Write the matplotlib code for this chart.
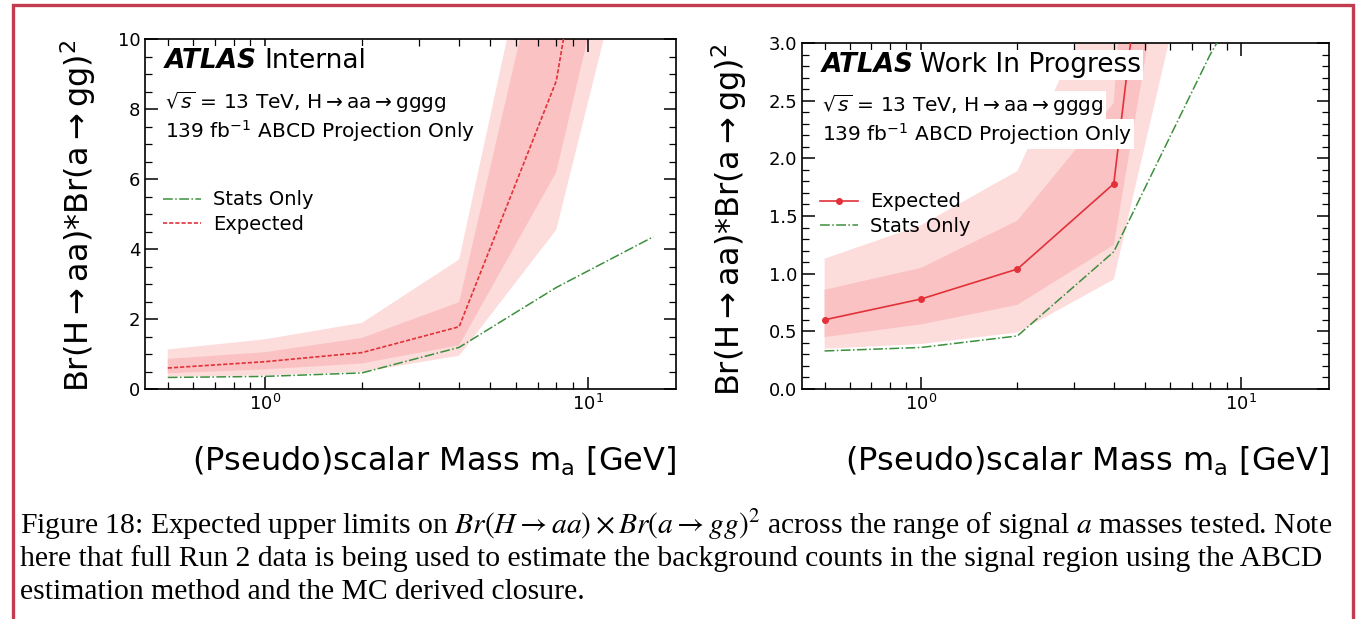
import numpy as np
import matplotlib.pyplot as plt
import matplotlib.patches as patches
from matplotlib.ticker import MultipleLocator

# values
mass = [0.5, 1, 2, 4, 8, 16]
expected = [0.60, 0.78, 1.04, 1.78, 8.8, 25.0]
stats_only = [0.33, 0.36, 0.46, 1.19, 2.9, 4.35]
band1_lo = [0.45, 0.56, 0.73, 1.25, 6.2, 18.0]
band1_hi = [0.86, 1.05, 1.46, 2.48, 14.5, 40.0]
band2_lo = [0.35, 0.39, 0.49, 0.95, 4.55, 15.7]
band2_hi = [1.13, 1.42, 1.89, 3.70, 16.5, 60.0]

tag_left = 'Internal'
tag_right = 'Work In Progress'
line2 = r'$\sqrt{s}$ = 13 TeV, H$\rightarrow$aa$\rightarrow$gggg'
line3 = r'139 fb$^{-1}$ ABCD Projection Only'
ylab = r'Br(H$\rightarrow$aa)*Br(a$\rightarrow$gg)$^2$'
xlab = r'(Pseudo)scalar Mass m$_{\rm a}$ [GeV]'
caption = [r'Figure 18: Expected upper limits on $Br(H \rightarrow aa) \times Br(a \rightarrow gg)^2$ across the range of signal $a$ masses tested. Note',
           'here that full Run 2 data is being used to estimate the background counts in the signal region using the ABCD',
           'estimation method and the MC derived closure.']

c_outer = '#fddcdc'
c_inner = '#fac2c2'
c_red = '#e3313a'
c_green = '#3c8f3c'

fig = plt.figure(figsize=(13.66, 6.19), dpi=100)
axL = fig.add_axes([145/1366, 1-389/619, 531/1366, 350/619])
axR = fig.add_axes([802/1366, 1-389/619, 527/1366, 346/619])


def style(ax, ymax, major, minor):
    ax.set_xscale('log')
    ax.set_ylim(0, ymax)
    ax.yaxis.set_major_locator(MultipleLocator(major))
    ax.yaxis.set_minor_locator(MultipleLocator(minor))
    ax.tick_params(which='both', direction='in', top=True, right=True, labelsize=13)
    ax.tick_params(which='major', length=9, width=1.1)
    ax.tick_params(which='minor', length=5, width=0.9)
    for s in ax.spines.values():
        s.set_linewidth(1.2)
    ax.set_ylabel(ylab, fontsize=23, loc='top', labelpad=14)
    ax.set_xlabel(xlab, fontsize=23, loc='right', labelpad=22)


def bands(ax):
    ax.fill_between(mass, band2_lo, band2_hi, color=c_outer, lw=0, zorder=1)
    ax.fill_between(mass, band1_lo, band1_hi, color=c_inner, lw=0, zorder=1)


def labels(ax, tag):
    box = dict(facecolor='white', edgecolor='none', pad=1.5)
    ax.text(0.038, 0.975, 'ATLAS', transform=ax.transAxes, fontsize=19, fontweight='bold',
            style='italic', va='top', bbox=box, zorder=5)
    ax.text(0.224, 0.975, tag, transform=ax.transAxes, fontsize=19, va='top', bbox=box, zorder=5)
    ax.text(0.038, 0.855, line2, transform=ax.transAxes, fontsize=14.5, va='top', bbox=box, zorder=5)
    ax.text(0.038, 0.775, line3, transform=ax.transAxes, fontsize=14.5, va='top', bbox=box, zorder=5)


# left panel
bands(axL)
axL.plot(mass, stats_only, color=c_green, ls='-.', lw=1.1, label='Stats Only', zorder=3)
axL.plot(mass, expected, color=c_red, ls=(0, (2.5, 1.2)), lw=1.2, label='Expected', zorder=3)
style(axL, 10, 2, 0.5)
labels(axL, tag_left)
axL.legend(loc='center left', bbox_to_anchor=(0.0, 0.505), frameon=False, fontsize=14,
           handlelength=2.0, handletextpad=0.6, labelspacing=0.3)

# right panel
bands(axR)
axR.plot(mass, expected, color=c_red, ls='-', lw=1.2, marker='o', ms=4, label='Expected', zorder=3)
axR.plot(mass, stats_only, color=c_green, ls='-.', lw=1.1, label='Stats Only', zorder=3)
style(axR, 3.0, 0.5, 0.1)
labels(axR, tag_right)
axR.legend(loc='center left', bbox_to_anchor=(0.0, 0.505), frameon=False, fontsize=14,
           handlelength=2.0, handletextpad=0.6, labelspacing=0.3)

for ax in (axL, axR):
    ax.set_xlim(0.425, 18.8)

# caption
for i, txt in enumerate(caption):
    fig.text(20/1366, 1 - (525 + 33.5*i)/619, txt, fontsize=21.3, family='Liberation Serif',
             math_fontfamily='stix', va='center', ha='left')

# red frame round the figure
fig.patches.append(patches.Rectangle((13/1366, -0.05), 1340/1366, 1.05 - 5/619,
                                     transform=fig.transFigure, fill=False,
                                     edgecolor='#c23b4e', lw=2.4, clip_on=False))

fig.savefig('out.png', dpi=100)
